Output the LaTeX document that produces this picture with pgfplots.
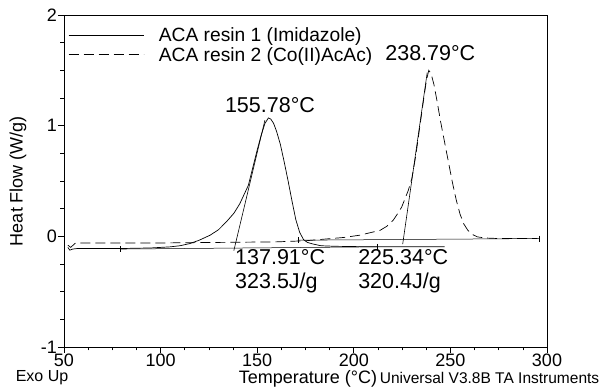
\documentclass[border=0pt]{standalone}
\usepackage{fontspec}
\setmainfont{Liberation Sans}
\usepackage{pgfplots}
\pgfplotsset{compat=1.18}
\begin{document}
\begin{tikzpicture}[x=1pt,y=1pt]
\path[use as bounding box] (0,0) rectangle (609,387);
\begin{axis}[at={(64pt,40pt)}, anchor=south west, scale only axis,
  width=483pt, height=332pt,
  xmin=50, xmax=300, ymin=-1, ymax=2,
  xtick={50,100,...,300}, ytick={-1,0,1,2},
  minor x tick num=3, minor y tick num=3,
  tick align=outside, tick pos=left,
  major tick length=6pt, minor tick length=3.5pt,
  every tick/.style={black, line width=0.7pt},
  axis line style={line width=0.8pt},
  ticklabel style={font=\fontsize{18}{20}\selectfont, inner sep=1pt},
  /pgf/number format/assume math mode=true,
  xlabel={Temperature (°C)}, ylabel={Heat Flow (W/g)},
  label style={font=\fontsize{18}{20}\selectfont, inner sep=1pt},
  xlabel style={at={(axis description cs:0.505,-0.0964)}, anchor=center},
  ylabel style={at={(axis description cs:-0.0952,0.5)}, anchor=center},
  legend style={at={(rel axis cs:0,1)}, anchor=north west, xshift=4pt, yshift=-12.5pt,
    draw=none, fill=none, inner sep=0pt, row sep=4pt, column sep=15pt,
    font=\fontsize{19.2}{21}\selectfont,
    nodes={inner sep=0pt}},
  legend cell align=left,
  legend image code/.code={\draw[#1] (0pt,0pt) -- (75pt,0pt);},
  legend columns=1,
]
\addplot[black, line width=0.7pt] coordinates {
(52,-0.10) (53,-0.125) (54.5,-0.115) (57,-0.11) (65,-0.11) (80,-0.11) (95,-0.105)
(105,-0.095) (110,-0.085) (115,-0.066) (120,-0.035) (125.6,0.01) (130,0.06)
(134,0.13) (138,0.21) (141,0.295) (143,0.37) (145.4,0.46) (148,0.64) (150,0.78)
(152,0.91) (154,1.02) (155.8,1.07) (157,1.06) (158.5,1.02) (160,0.95) (162,0.83)
(164,0.67) (166,0.50) (168,0.32) (170,0.15) (172,0.035) (174,-0.03) (176,-0.055)
(179,-0.07) (183,-0.085) (190,-0.09) (210,-0.095) (230,-0.095) (247,-0.095)
};
\addlegendentry{ACA resin 1 (Imidazole)}
\addplot[black, line width=0.7pt, dash pattern=on 10pt off 5pt] coordinates {
(52,-0.08) (53.5,-0.10) (55,-0.075) (56,-0.06) (70,-0.06) (100,-0.06) (130,-0.055)
(160,-0.05) (175,-0.04) (185,-0.025) (195,-0.01) (203,0.01) (209,0.035)
(213.6,0.054) (217,0.09) (220.4,0.145) (222.5,0.20) (224.8,0.265) (226.5,0.34)
(228.2,0.415) (230,0.52) (232,0.72) (234,0.97) (236,1.22) (237.5,1.40)
(238.8,1.50) (240,1.47) (241.5,1.37) (243,1.23) (245,1.03) (247,0.85) (249,0.67)
(251,0.49) (253,0.33) (255,0.20) (257,0.11) (259,0.055) (261,0.02) (264,-0.005)
(268,-0.015) (275,-0.02) (285,-0.02) (295,-0.02)
};
\addlegendentry{ACA resin 2 (Co(II)AcAc)}
% onset tangents
\addplot[black, line width=0.6pt, forget plot] coordinates {(137.9,-0.13) (154,1.05)};
\addplot[black, line width=0.6pt, forget plot] coordinates {(225.3,-0.07) (238,1.48)};
% baselines
\addplot[black, line width=0.5pt, forget plot] coordinates {(79,-0.115) (212,-0.095)};
\addplot[black, line width=0.5pt, forget plot] coordinates {(171,-0.035) (296,-0.02)};
\addplot[black, only marks, mark=|, mark size=3pt, line width=0.5pt, forget plot]
  coordinates {(79,-0.115) (212,-0.095) (171,-0.035) (296,-0.02)};
% annotations
\node[font=\fontsize{21.5}{22}\selectfont, anchor=center] at (axis cs:156.6,1.19) {155.78°C};
\node[font=\fontsize{21.5}{22}\selectfont, anchor=center] at (axis cs:239.6,1.66) {238.79°C};
\node[font=\fontsize{21.5}{22}\selectfont, anchor=west, inner sep=0pt] at (axis cs:138.5,-0.19) {137.91°C};
\node[font=\fontsize{21.5}{22}\selectfont, anchor=west, inner sep=0pt] at (axis cs:138.5,-0.425) {323.5J/g};
\node[font=\fontsize{21.5}{22}\selectfont, anchor=west, inner sep=0pt] at (axis cs:202.2,-0.19) {225.34°C};
\node[font=\fontsize{21.5}{22}\selectfont, anchor=west, inner sep=0pt] at (axis cs:202.2,-0.425) {320.4J/g};
\end{axis}
\node[font=\fontsize{16}{17}\selectfont, anchor=center, inner sep=1pt] at (42,9) {Exo Up};
\node[font=\fontsize{15.5}{17}\selectfont, anchor=center, inner sep=1pt] at (489.5,9) {Universal V3.8B TA Instruments};
\end{tikzpicture}
\end{document}
